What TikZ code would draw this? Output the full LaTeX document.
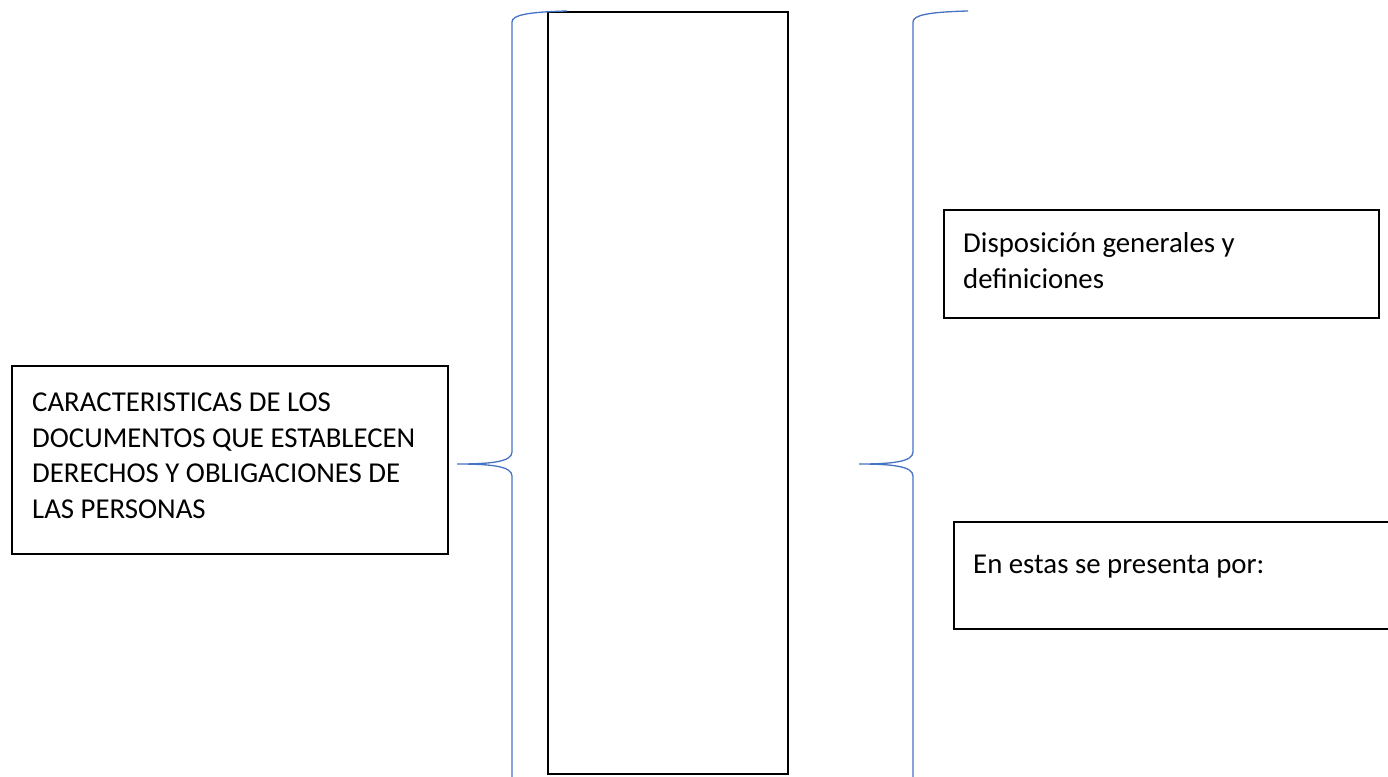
\documentclass[tikz,border=0pt]{standalone}
\usepackage{fontspec}
\setmainfont{Carlito}
\usetikzlibrary{positioning}
\definecolor{llaveazul}{HTML}{4472C4}

\begin{document}
\begin{tikzpicture}
        [
        x = 1pt, y = -1pt,
        caja/.style  = {draw, line width=1.8pt, inner sep=0pt, anchor=north west},
        llave/.style = {draw=llaveazul, line width=1.3pt},
        texto/.style = {anchor=base west, inner sep=0pt, align=left,
                        font=\fontsize{28.8}{35.5}\selectfont}
        ]
                \clip (0,0) rectangle (1388,776);
                \node [caja, minimum width=436pt, minimum height=188pt] (tema)        at (11,365)  {};
                \node [caja, minimum width=240pt, minimum height=762pt] (centro)      at (547,11)  {};
                \node [caja, minimum width=435pt, minimum height=108pt] (disposicion) at (943,209) {};
                \node [caja, minimum width=470pt, minimum height=107pt] (presenta)    at (953,521) {};
                \node [texto] (tematexto) at (32,518)
                        {CARACTERISTICAS DE LOS\\DOCUMENTOS QUE ESTABLECEN\\DERECHOS Y OBLIGACIONES DE\\LAS PERSONAS};
                \node [texto] (disptexto) at (963,288) {Disposición generales y\\definiciones};
                \node [texto] (prestexto) at (973,573) {En estas se presenta por:};
                \coordinate (punta1) at (457,464);
                \coordinate (punta2) at (859,464);
                \draw [llave]
                        (567,11) .. controls (528,12) and (512,15) .. (512,22) -- (512,452)
                        .. controls (512,462) and (490,464) .. (punta1)
                        .. controls (490,464) and (512,466) .. (512,476) -- (512,790);
                \draw [llave]
                        (968,11) .. controls (929,12) and (913,15) .. (913,22) -- (913,452)
                        .. controls (913,462) and (891,464) .. (punta2)
                        .. controls (891,464) and (913,466) .. (913,476) -- (913,790);
        \end{tikzpicture}
\end{document}
